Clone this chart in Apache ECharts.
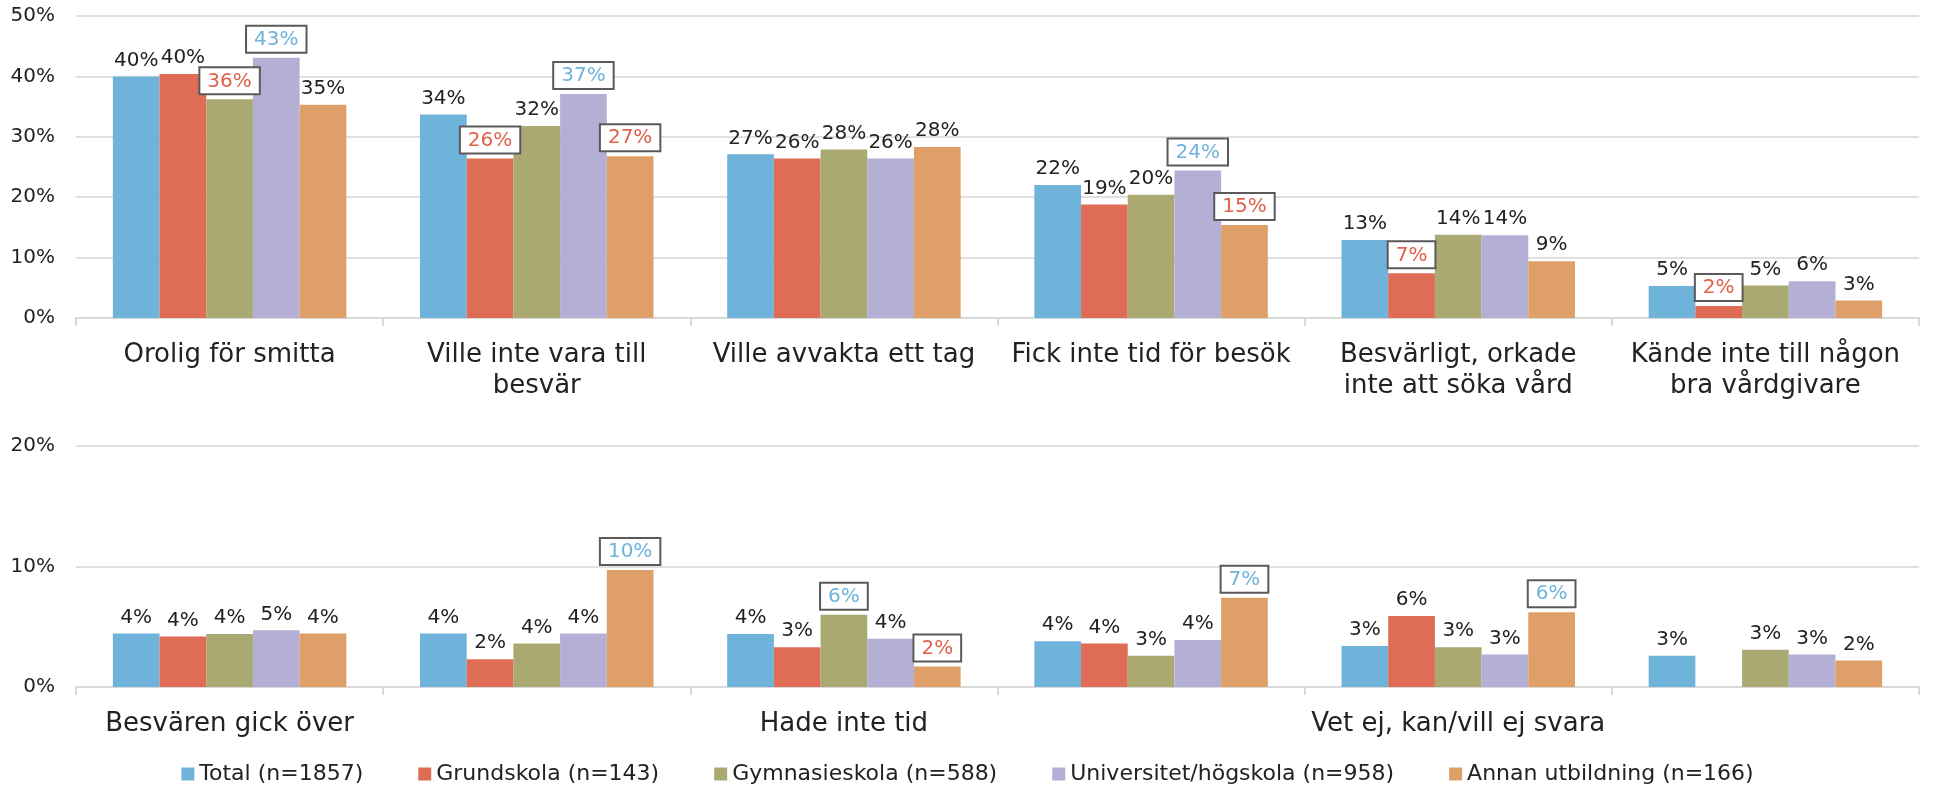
<!DOCTYPE html>
<html>
<head>
<meta charset="utf-8">
<title>Skäl till att inte söka vård</title>
<script src="https://cdn.jsdelivr.net/npm/echarts@6/dist/echarts.min.js"></script>
<style>
html, body { margin: 0; padding: 0; background: #fff; }
#chart { width: 1935px; height: 785px; }
</style>
</head>
<body>
<div id="chart"></div>
<script>
// grupper (serier)
var groups = ['Total (n=1857)', 'Grundskola (n=143)', 'Gymnasieskola (n=588)', 'Universitet/högskola (n=958)', 'Annan utbildning (n=166)'];
var colors = ['#6fb3da', '#df6c55', '#aaa971', '#b4afd5', '#dea068'];

// övre diagrammet
var topCats = ['Orolig för smitta', 'Ville inte vara till\nbesvär', 'Ville avvakta ett tag', 'Fick inte tid för besök', 'Besvärligt, orkade\ninte att söka vård', 'Kände inte till någon\nbra vårdgivare'];
var topTotal = [40.0, 33.7, 27.1, 22.0, 12.9, 5.3];
var topGrund = [40.4, 26.4, 26.4, 18.8, 7.4, 2.0];
var topGymn  = [36.2, 31.8, 27.9, 20.4, 13.8, 5.4];
var topUniv  = [43.1, 37.1, 26.4, 24.4, 13.7, 6.1];
var topAnnan = [35.3, 26.8, 28.3, 15.4, 9.4, 2.9];
// 1 = signifikant högre (blå ruta), -1 = signifikant lägre (röd ruta)
var topSig = [
  [0, 0, 0, 0, 0, 0],
  [0, -1, 0, 0, -1, -1],
  [-1, 0, 0, 0, 0, 0],
  [1, 1, 0, 1, 0, 0],
  [0, -1, 0, -1, 0, 0]
];

// nedre diagrammet
var bottomCats = ['Besvären gick över', '', 'Hade inte tid', '', 'Vet ej, kan/vill ej svara', ''];
var botTotal = [4.45, 4.45, 4.4, 3.8, 3.4, 2.6];
var botGrund = [4.2, 2.3, 3.3, 3.6, 5.9, null];
var botGymn  = [4.4, 3.6, 6.0, 2.6, 3.3, 3.1];
var botUniv  = [4.7, 4.45, 4.0, 3.9, 2.7, 2.7];
var botAnnan = [4.45, 9.7, 1.7, 7.4, 6.2, 2.2];
var botSig = [
  [0, 0, 0, 0, 0, 0],
  [0, 0, 0, 0, 0, 0],
  [0, 0, 1, 0, 0, 0],
  [0, 0, 0, 0, 0, 0],
  [0, 1, -1, 1, 1, 0]
];

var yTicksTop = [0, 50, 10];
var yTicksBot = [0, 20, 10];

var FONT = 'DejaVu Sans';
var TXT = '#222';

function pointData(vals, sig) {
  return vals.map(function (v, i) {
    if (v === null) return '-';
    if (!sig[i]) return v;
    return {
      value: v,
      label: {
        color: sig[i] > 0 ? '#6fb3da' : '#e0604a',
        borderColor: '#5a5a5a',
        borderWidth: 2,
        backgroundColor: '#fff',
        padding: [3, 7, 2, 7]
      }
    };
  });
}

function makeSeries(idx, list, sig) {
  return list.map(function (vals, s) {
    return {
      name: groups[s],
      type: 'bar',
      xAxisIndex: idx,
      yAxisIndex: idx,
      barGap: '0%',
      barCategoryGap: '24%',
      itemStyle: { color: colors[s] },
      label: {
        show: true,
        position: 'top',
        distance: 6,
        fontFamily: FONT,
        fontSize: 20,
        color: TXT,
        formatter: function (p) { return Math.round(p.value) + '%'; }
      },
      data: pointData(vals, sig[s])
    };
  });
}

function xAxis(idx, cats) {
  return {
    type: 'category',
    gridIndex: idx,
    data: cats,
    axisLine: { lineStyle: { color: '#d9d9d9', width: 2 } },
    axisTick: { show: true, length: 8, lineStyle: { color: '#d9d9d9', width: 2 } },
    axisLabel: { interval: 0, fontFamily: FONT, fontSize: 26, color: TXT, lineHeight: 31, margin: 22 }
  };
}

function yAxis(idx, t) {
  return {
    type: 'value',
    gridIndex: idx,
    min: t[0], max: t[1], interval: t[2],
    axisLine: { show: false },
    axisTick: { show: false },
    splitLine: { lineStyle: { color: '#e0e0e0', width: 2 } },
    axisLabel: { fontFamily: FONT, fontSize: 20, color: TXT, margin: 21, formatter: '{value}%' }
  };
}

var chart = echarts.init(document.getElementById('chart'));
var option = {
  animation: false,
  color: colors,
  grid: [
    { left: 76, right: 16, top: 16, height: 302, outerBoundsMode: 'none' },
    { left: 76, right: 16, top: 446, height: 241, outerBoundsMode: 'none' }
  ],
  legend: {
    data: groups,
    top: 758,
    left: 'center',
    icon: 'rect',
    itemWidth: 13,
    itemHeight: 13,
    itemGap: 55,
    textStyle: { fontFamily: FONT, fontSize: 22, color: TXT }
  },
  xAxis: [xAxis(0, topCats), xAxis(1, bottomCats)],
  yAxis: [yAxis(0, yTicksTop), yAxis(1, yTicksBot)],
  series: makeSeries(0, [topTotal, topGrund, topGymn, topUniv, topAnnan], topSig)
    .concat(makeSeries(1, [botTotal, botGrund, botGymn, botUniv, botAnnan], botSig))
};
chart.setOption(option);
</script>
</body>
</html>
